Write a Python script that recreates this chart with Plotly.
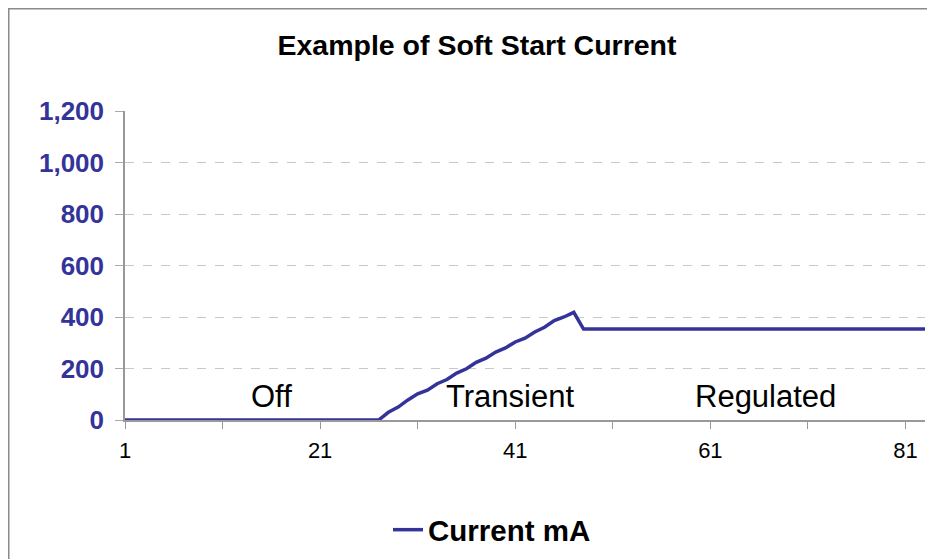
import plotly.graph_objects as go

# ---- data ----
x_index = list(range(1, 84))
ramp = [0, 30, 50, 78, 102, 116, 141, 157, 182, 199, 224, 240, 264, 280, 303, 318, 342, 360, 386, 400, 418]  # points 27..47
current_ma = [0] * 26 + ramp + [353] * 36
x_tick_vals = [1, 21, 41, 61, 81]
y_tick_vals = [0, 200, 400, 600, 800, 1000, 1200]
y_tick_text = ["0", "200", "400", "600", "800", "1,000", "1,200"]
region_labels = ["Off", "Transient", "Regulated"]
region_x = [16, 40.5, 66.6]
region_y = [93, 93, 93]

LINE = "#333399"
FONT = "Arial, Liberation Sans, sans-serif"

W, H = 927, 551  # page body has an 8px margin
L, R, T, B = 117, 10, 103, 139
PW, PH = W - L - R, H - T - B

fig = go.Figure()
fig.add_trace(go.Scatter(
    x=x_index, y=current_ma, mode="lines", name="Current mA",
    line=dict(color=LINE, width=3.5),
))

for t, xx, yy in zip(region_labels, region_x, region_y):
    fig.add_annotation(x=xx, y=yy, text=t, showarrow=False,
                       font=dict(family=FONT, size=31, color="black"),
                       xanchor="center", yanchor="middle")

# outer chart frame
fig.add_shape(type="rect", xref="paper", yref="paper",
              x0=(0.75 - L) / PW, x1=(W + 40 - L) / PW,
              y0=(PH + T - (H + 40)) / PH, y1=(PH + T - 0.75) / PH,
              line=dict(color="#8a8a8a", width=1.5), layer="below")

fig.update_layout(
    width=W, height=H,
    margin=dict(l=L, r=R, t=T, b=B),
    paper_bgcolor="white", plot_bgcolor="white",
    title=dict(text="<b>Example of Soft Start Current</b>",
               font=dict(family=FONT, size=28.5, color="black"),
               x=469 / W, xref="container", xanchor="center",
               y=1 - 37 / H, yref="container", yanchor="middle"),
    showlegend=True,
    legend=dict(orientation="h", xref="container", x=484 / W, xanchor="center",
                yref="container", y=1 - 522 / H, yanchor="middle",
                font=dict(family=FONT, size=29.5, color="black", weight="bold"),
                bgcolor="rgba(0,0,0,0)"),
    xaxis=dict(range=[1, 83], tickmode="array", tickvals=x_tick_vals,
               ticks="outside", ticklen=7, tickcolor="#999999", tickwidth=1,
               showline=True, linecolor="#999999", linewidth=1.5,
               showgrid=False, zeroline=False, ticklabelstandoff=3,
               tickfont=dict(family=FONT, size=22, color="black"),
               minor=dict(tickmode="linear", tick0=1, dtick=10, ticks="outside",
                          ticklen=7, tickcolor="#999999", showgrid=False)),
    yaxis=dict(range=[0, 1200], tickmode="array", tickvals=y_tick_vals,
               ticktext=y_tick_text,
               ticks="outside", ticklen=8, tickcolor="#aaaaaa", tickwidth=1,
               showline=True, linecolor="#999999", linewidth=1.5,
               showgrid=True, gridcolor="#c8c8c8", griddash="dash", gridwidth=1,
               zeroline=False, ticklabelstandoff=6,
               tickfont=dict(family=FONT, size=26, color=LINE, weight="bold")),
)

fig.write_html("out.html")
